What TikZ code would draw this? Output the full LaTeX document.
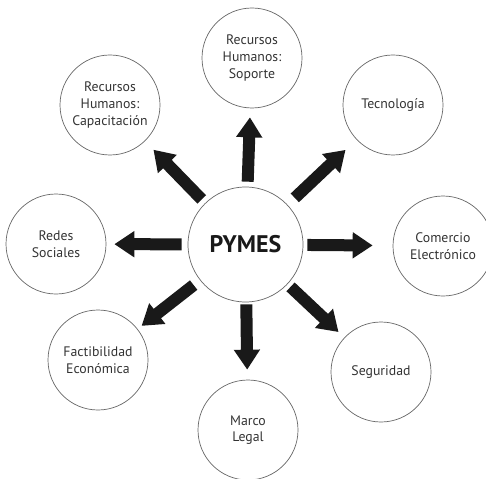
\documentclass[tikz,border=0pt]{standalone}
\usepackage{fontspec}
\setmainfont{PT Sans}
\usetikzlibrary{arrows.meta}

\begin{document}
\begin{tikzpicture}[
    x=1pt, y=-1pt,
    tema/.style={
      circle,
      draw=black!60,
      line width=0.7pt,
      minimum size=100pt,
      inner sep=1pt,
      align=center,
      text=black!80,
      font=\fontsize{13.8}{16.6}\selectfont
    },
    centro/.style={
      circle,
      draw=black!60,
      line width=0.7pt,
      minimum size=115pt,
      text=black!90,
      font=\fontsize{24}{26}\selectfont\bfseries
    },
    flecha/.style={
      draw=black!90,
      line width=12pt,
      -{Triangle[length=20pt,width=25pt]},
      shorten <=5pt,
      shorten >=9pt
    },
  ]

  \useasboundingbox (0,0) rectangle (486,478);

  %%%%%%%%%%%%%%%%%%%%%%%%%%%%%%%%%%%%%%%%%%%%%%
  %%%%%%%%%%%%%%%% ACTUAL NODES %%%%%%%%%%%%%%%%%%%
  %%%%%%%%%%%%%%%%%%%%%%%%%%%%%%%%%%%%%%%%%%%%%%
    \node[centro] (pymes) at (245.5,244.5) {PYMES};

    \node[tema] (soporte) at (252,58) {Recursos\\Humanos:\\Soporte};
    \node[tema] (capacitacion) at (110,105) {Recursos\\Humanos:\\Capacitación};
    \node[tema] (tecnologia) at (393,105) {Tecnología};
    \node[tema] (comercio) at (443,246) {Comercio\\Electrónico};
    \node[tema] (redes) at (56,244) {Redes\\Sociales};
    \node[tema] (factibilidad) at (98,360) {Factibilidad\\Económica};
    \node[tema] (marco) at (248,430) {Marco\\Legal};
    \node[tema] (seguridad) at (381,372) {Seguridad};

  %%%%%%%%%%%%%%%%%%%%%%%%%%%%%%%%%%%%%%%%%%%%%%
  %%%%%%%%%%%%%%%%%% PATHS %%%%%%%%%%%%%%%%%%%%%%%
  %%%%%%%%%%%%%%%%%%%%%%%%%%%%%%%%%%%%%%%%%%%%%%
    \path[flecha] (pymes) -- (soporte);
    \path[flecha, shorten >=12pt] (pymes) -- (capacitacion);
    \path[flecha, shorten <=10pt, shorten >=15pt] (pymes) -- (tecnologia);
    \path[flecha, shorten <=4pt, shorten >=20pt] (pymes) -- (comercio);
    \path[flecha, shorten <=6pt, shorten >=8pt] (pymes) -- (redes);
    \path[flecha, shorten <=8pt, shorten >=5pt] (pymes) -- (factibilidad);
    \path[flecha, shorten <=2pt, shorten >=10pt] (pymes) -- (marco);
    \path[flecha, shorten <=4pt, shorten >=8pt] (pymes) -- (seguridad);

\end{tikzpicture}
\end{document}
